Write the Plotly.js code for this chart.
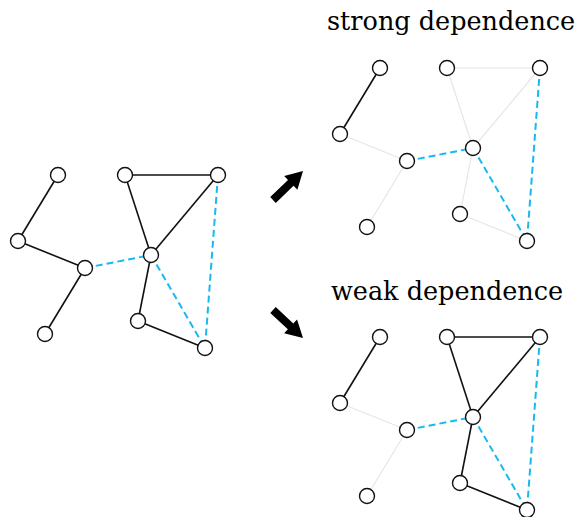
<!DOCTYPE html>
<html>
<head>
<meta charset="utf-8">
<script src="https://cdn.plot.ly/plotly-3.0.1.min.js"></script>
<style>html,body{margin:0;padding:0;background:#fff;}#chart{width:583px;height:517px;}</style>
</head>
<body>
<div id="chart"></div>
<script>
// Base graph node layout (left panel), in pixel units
var nodeNames = ["A","B","C","D","E","F","G","H","I"];
var nodeX = [58, 18, 85, 45, 125, 218, 151, 138, 205];
var nodeY = [175, 241, 268, 334, 175, 175, 255, 321, 348];

// Edges (pairs of node indices)
var edgeFrom = [0, 1, 2, 4, 4, 5, 6, 7, 2, 6, 5];
var edgeTo   = [1, 2, 3, 5, 6, 6, 7, 8, 6, 8, 8];
// Edge type: "s" = solid, "d" = dashed (blue)
var edgeType = ["s","s","s","s","s","s","s","s","d","d","d"];

// Panels: offsets and which solid edges stay dark
var panelNames = ["full", "strong", "weak"];
var panelDX = [0, 322, 322];
var panelDY = [0, -107, 162];
// per panel: 1 = dark solid edge, 0 = faded edge
var panelStrong = [1, 0, 0, 0, 0, 0, 0, 0, 1, 1, 1];
var panelWeak   = [1, 0, 0, 1, 1, 1, 1, 1, 1, 1, 1];
var panelFull   = [1, 1, 1, 1, 1, 1, 1, 1, 1, 1, 1];
var panelKeep = [panelFull, panelStrong, panelWeak];

var titles = ["", "strong dependence", "weak dependence"];

// Arrows between panels: tail and tip
var arrowTailX = [273, 273];
var arrowTailY = [200, 310];
var arrowTipX  = [303, 303];
var arrowTipY  = [171, 338];

var traces = [];
for (var p = 0; p < panelNames.length; p++) {
  var dark = {x: [], y: []}, faint = {x: [], y: []}, dash = {x: [], y: []};
  for (var e = 0; e < edgeFrom.length; e++) {
    var a = edgeFrom[e], b = edgeTo[e];
    var seg = [nodeX[a] + panelDX[p], nodeX[b] + panelDX[p], null];
    var segY = [nodeY[a] + panelDY[p], nodeY[b] + panelDY[p], null];
    var tgt;
    if (edgeType[e] === "d") tgt = dash;
    else if (panelKeep[p][e]) tgt = dark;
    else tgt = faint;
    tgt.x = tgt.x.concat(seg);
    tgt.y = tgt.y.concat(segY);
  }
  traces.push({x: faint.x, y: faint.y, mode: "lines", type: "scatter", hoverinfo: "skip",
    line: {color: "#e6e6e6", width: 1.2}});
  traces.push({x: dark.x, y: dark.y, mode: "lines", type: "scatter", hoverinfo: "skip",
    line: {color: "#111111", width: 1.6}});
  traces.push({x: dash.x, y: dash.y, mode: "lines", type: "scatter", hoverinfo: "skip",
    line: {color: "#17b9f0", width: 2, dash: "7px,4px"}});
  traces.push({
    x: nodeX.map(function (v) { return v + panelDX[p]; }),
    y: nodeY.map(function (v) { return v + panelDY[p]; }),
    text: nodeNames, mode: "markers", type: "scatter", hoverinfo: "text",
    marker: {symbol: "circle", size: 15, color: "#ffffff", line: {color: "#111111", width: 1.4}}
  });
}

// Arrow polygons computed from tail/tip
var shapes = [];
for (var k = 0; k < arrowTailX.length; k++) {
  var tx = arrowTailX[k], ty = arrowTailY[k], hx = arrowTipX[k], hy = arrowTipY[k];
  var dx = hx - tx, dy = hy - ty, L = Math.sqrt(dx * dx + dy * dy);
  var ux = dx / L, uy = dy / L, nx = -uy, ny = ux;
  var headLen = 17, headW = 9.5, shaftW = 4;
  var bx = hx - ux * headLen, by = hy - uy * headLen;
  var pts = [
    [tx + nx * shaftW, ty + ny * shaftW],
    [bx + nx * shaftW, by + ny * shaftW],
    [bx + nx * headW, by + ny * headW],
    [hx, hy],
    [bx - nx * headW, by - ny * headW],
    [bx - nx * shaftW, by - ny * shaftW],
    [tx - nx * shaftW, ty - ny * shaftW]
  ];
  var path = "M " + pts.map(function (q) { return q[0].toFixed(2) + "," + q[1].toFixed(2); }).join(" L ") + " Z";
  shapes.push({type: "path", xref: "x", yref: "y", path: path, fillcolor: "#000000", line: {width: 0}});
}

var annotations = [
  {x: 451, y: 38.5, xref: "x", yref: "y", text: titles[1], showarrow: false, xanchor: "center", yanchor: "bottom",
    font: {family: "DejaVu Serif", size: 25.5, color: "#000000"}},
  {x: 447, y: 307.5, xref: "x", yref: "y", text: titles[2], showarrow: false, xanchor: "center", yanchor: "bottom",
    font: {family: "DejaVu Serif", size: 25.5, color: "#000000"}}
];

var layout = {
  width: 583, height: 517,
  margin: {l: 0, r: 0, t: 0, b: 0},
  paper_bgcolor: "#ffffff", plot_bgcolor: "#ffffff",
  showlegend: false,
  xaxis: {range: [0, 583], visible: false, fixedrange: true},
  yaxis: {range: [517, 0], visible: false, fixedrange: true},
  shapes: shapes,
  annotations: annotations
};

Plotly.newPlot("chart", traces, layout, {displayModeBar: false, staticPlot: true});
</script>
</body>
</html>
